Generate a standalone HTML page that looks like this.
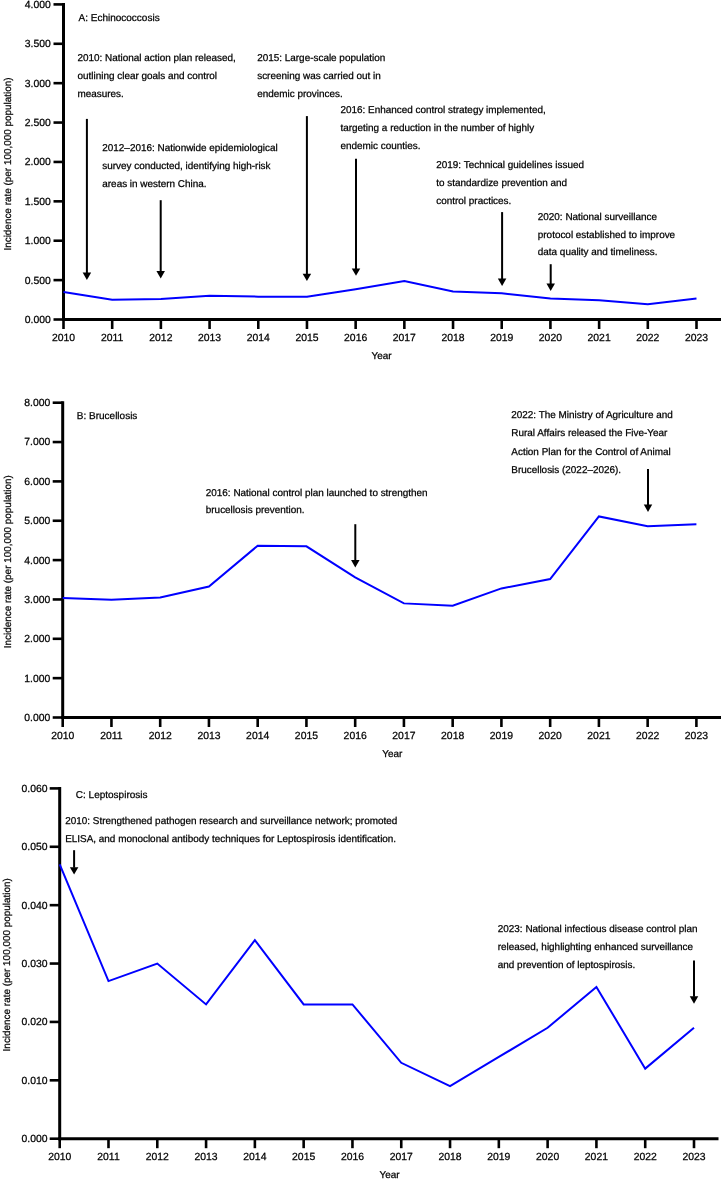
<!DOCTYPE html>
<html><head><meta charset="utf-8"><style>
html,body{margin:0;padding:0;background:#fff;}
svg{display:block;will-change:transform;}
text{font-family:"Liberation Sans", sans-serif;fill:#000;text-rendering:geometricPrecision;stroke:#000;stroke-width:0.25px;}
</style></head><body>
<svg width="722" height="1180" viewBox="0 0 722 1180">
<rect width="722" height="1180" fill="#fff"/>
<line x1="63.50" y1="2.90" x2="63.50" y2="321.00" stroke="#000" stroke-width="3"/>
<line x1="62.00" y1="319.50" x2="721.00" y2="319.50" stroke="#000" stroke-width="3"/>
<line x1="53.50" y1="319.50" x2="63.50" y2="319.50" stroke="#000" stroke-width="2.6"/>
<text x="50.80" y="322.90" font-size="10.4" text-anchor="end">0.000</text>
<line x1="53.50" y1="280.11" x2="63.50" y2="280.11" stroke="#000" stroke-width="2.6"/>
<text x="50.80" y="283.51" font-size="10.4" text-anchor="end">0.500</text>
<line x1="53.50" y1="240.72" x2="63.50" y2="240.72" stroke="#000" stroke-width="2.6"/>
<text x="50.80" y="244.12" font-size="10.4" text-anchor="end">1.000</text>
<line x1="53.50" y1="201.34" x2="63.50" y2="201.34" stroke="#000" stroke-width="2.6"/>
<text x="50.80" y="204.74" font-size="10.4" text-anchor="end">1.500</text>
<line x1="53.50" y1="161.95" x2="63.50" y2="161.95" stroke="#000" stroke-width="2.6"/>
<text x="50.80" y="165.35" font-size="10.4" text-anchor="end">2.000</text>
<line x1="53.50" y1="122.56" x2="63.50" y2="122.56" stroke="#000" stroke-width="2.6"/>
<text x="50.80" y="125.96" font-size="10.4" text-anchor="end">2.500</text>
<line x1="53.50" y1="83.17" x2="63.50" y2="83.17" stroke="#000" stroke-width="2.6"/>
<text x="50.80" y="86.57" font-size="10.4" text-anchor="end">3.000</text>
<line x1="53.50" y1="43.79" x2="63.50" y2="43.79" stroke="#000" stroke-width="2.6"/>
<text x="50.80" y="47.19" font-size="10.4" text-anchor="end">3.500</text>
<line x1="53.50" y1="4.40" x2="63.50" y2="4.40" stroke="#000" stroke-width="2.6"/>
<text x="50.80" y="7.80" font-size="10.4" text-anchor="end">4.000</text>
<line x1="63.50" y1="319.50" x2="63.50" y2="329.00" stroke="#000" stroke-width="2.6"/>
<text x="63.50" y="340.70" font-size="10.4" text-anchor="middle">2010</text>
<line x1="112.19" y1="319.50" x2="112.19" y2="329.00" stroke="#000" stroke-width="2.6"/>
<text x="112.19" y="340.70" font-size="10.4" text-anchor="middle">2011</text>
<line x1="160.88" y1="319.50" x2="160.88" y2="329.00" stroke="#000" stroke-width="2.6"/>
<text x="160.88" y="340.70" font-size="10.4" text-anchor="middle">2012</text>
<line x1="209.58" y1="319.50" x2="209.58" y2="329.00" stroke="#000" stroke-width="2.6"/>
<text x="209.58" y="340.70" font-size="10.4" text-anchor="middle">2013</text>
<line x1="258.27" y1="319.50" x2="258.27" y2="329.00" stroke="#000" stroke-width="2.6"/>
<text x="258.27" y="340.70" font-size="10.4" text-anchor="middle">2014</text>
<line x1="306.96" y1="319.50" x2="306.96" y2="329.00" stroke="#000" stroke-width="2.6"/>
<text x="306.96" y="340.70" font-size="10.4" text-anchor="middle">2015</text>
<line x1="355.65" y1="319.50" x2="355.65" y2="329.00" stroke="#000" stroke-width="2.6"/>
<text x="355.65" y="340.70" font-size="10.4" text-anchor="middle">2016</text>
<line x1="404.35" y1="319.50" x2="404.35" y2="329.00" stroke="#000" stroke-width="2.6"/>
<text x="404.35" y="340.70" font-size="10.4" text-anchor="middle">2017</text>
<line x1="453.04" y1="319.50" x2="453.04" y2="329.00" stroke="#000" stroke-width="2.6"/>
<text x="453.04" y="340.70" font-size="10.4" text-anchor="middle">2018</text>
<line x1="501.73" y1="319.50" x2="501.73" y2="329.00" stroke="#000" stroke-width="2.6"/>
<text x="501.73" y="340.70" font-size="10.4" text-anchor="middle">2019</text>
<line x1="550.42" y1="319.50" x2="550.42" y2="329.00" stroke="#000" stroke-width="2.6"/>
<text x="550.42" y="340.70" font-size="10.4" text-anchor="middle">2020</text>
<line x1="599.12" y1="319.50" x2="599.12" y2="329.00" stroke="#000" stroke-width="2.6"/>
<text x="599.12" y="340.70" font-size="10.4" text-anchor="middle">2021</text>
<line x1="647.81" y1="319.50" x2="647.81" y2="329.00" stroke="#000" stroke-width="2.6"/>
<text x="647.81" y="340.70" font-size="10.4" text-anchor="middle">2022</text>
<line x1="696.50" y1="319.50" x2="696.50" y2="329.00" stroke="#000" stroke-width="2.6"/>
<text x="696.50" y="340.70" font-size="10.4" text-anchor="middle">2023</text>
<polyline points="63.50,291.93 112.19,299.81 160.88,299.02 209.58,295.87 258.27,296.66 306.96,296.66 355.65,289.17 404.35,280.90 453.04,291.38 501.73,293.35 550.42,298.55 599.12,300.20 647.81,304.14 696.50,298.55" fill="none" stroke="#0000ff" stroke-width="2" stroke-linejoin="miter"/>
<text x="381.60" y="359.00" font-size="9.93" text-anchor="middle">Year</text>
<text x="0" y="0" font-size="9.93" text-anchor="middle" transform="translate(11.00,164.00) rotate(-90)">Incidence rate (per 100,000 population)</text>
<text x="78.50" y="21.10" font-size="10" text-anchor="start">A: Echinococcosis</text>
<text x="77.50" y="60.80" font-size="9.93" text-anchor="start">2010: National action plan released,</text>
<text x="77.50" y="78.70" font-size="9.93" text-anchor="start">outlining clear goals and control</text>
<text x="77.50" y="96.60" font-size="9.93" text-anchor="start">measures.</text>
<text x="257.20" y="60.80" font-size="9.93" text-anchor="start">2015: Large-scale population</text>
<text x="257.20" y="78.70" font-size="9.93" text-anchor="start">screening was carried out in</text>
<text x="257.20" y="96.60" font-size="9.93" text-anchor="start">endemic provinces.</text>
<text x="102.30" y="151.40" font-size="9.93" text-anchor="start">2012–2016: Nationwide epidemiological</text>
<text x="102.30" y="169.30" font-size="9.93" text-anchor="start">survey conducted, identifying high-risk</text>
<text x="102.30" y="187.20" font-size="9.93" text-anchor="start">areas in western China.</text>
<text x="340.50" y="113.10" font-size="9.93" text-anchor="start">2016: Enhanced control strategy implemented,</text>
<text x="340.50" y="131.00" font-size="9.93" text-anchor="start">targeting a reduction in the number of highly</text>
<text x="340.50" y="148.90" font-size="9.93" text-anchor="start">endemic counties.</text>
<text x="436.30" y="168.40" font-size="9.93" text-anchor="start">2019: Technical guidelines issued</text>
<text x="436.30" y="186.30" font-size="9.93" text-anchor="start">to standardize prevention and</text>
<text x="436.30" y="204.20" font-size="9.93" text-anchor="start">control practices.</text>
<text x="537.80" y="219.60" font-size="9.93" text-anchor="start">2020: National surveillance</text>
<text x="537.80" y="237.50" font-size="9.93" text-anchor="start">protocol established to improve</text>
<text x="537.80" y="255.40" font-size="9.93" text-anchor="start">data quality and timeliness.</text>
<line x1="86.90" y1="118.90" x2="86.90" y2="273.10" stroke="#000" stroke-width="2"/>
<path d="M82.65,272.60 L91.15,272.60 L86.90,280.00 Z" fill="#000"/>
<line x1="160.70" y1="200.20" x2="160.70" y2="271.60" stroke="#000" stroke-width="2"/>
<path d="M156.45,271.10 L164.95,271.10 L160.70,278.50 Z" fill="#000"/>
<line x1="306.90" y1="116.10" x2="306.90" y2="274.20" stroke="#000" stroke-width="2"/>
<path d="M302.65,273.70 L311.15,273.70 L306.90,281.10 Z" fill="#000"/>
<line x1="356.00" y1="158.80" x2="356.00" y2="268.90" stroke="#000" stroke-width="2"/>
<path d="M351.75,268.40 L360.25,268.40 L356.00,275.80 Z" fill="#000"/>
<line x1="502.10" y1="212.10" x2="502.10" y2="279.10" stroke="#000" stroke-width="2"/>
<path d="M497.85,278.60 L506.35,278.60 L502.10,286.00 Z" fill="#000"/>
<line x1="550.70" y1="264.20" x2="550.70" y2="284.10" stroke="#000" stroke-width="2"/>
<path d="M546.45,283.60 L554.95,283.60 L550.70,291.00 Z" fill="#000"/>
<line x1="62.70" y1="401.20" x2="62.70" y2="719.00" stroke="#000" stroke-width="3"/>
<line x1="61.20" y1="717.50" x2="721.00" y2="717.50" stroke="#000" stroke-width="3"/>
<line x1="52.70" y1="717.50" x2="62.70" y2="717.50" stroke="#000" stroke-width="2.6"/>
<text x="50.30" y="720.90" font-size="10.4" text-anchor="end">0.000</text>
<line x1="52.70" y1="678.15" x2="62.70" y2="678.15" stroke="#000" stroke-width="2.6"/>
<text x="50.30" y="681.55" font-size="10.4" text-anchor="end">1.000</text>
<line x1="52.70" y1="638.80" x2="62.70" y2="638.80" stroke="#000" stroke-width="2.6"/>
<text x="50.30" y="642.20" font-size="10.4" text-anchor="end">2.000</text>
<line x1="52.70" y1="599.45" x2="62.70" y2="599.45" stroke="#000" stroke-width="2.6"/>
<text x="50.30" y="602.85" font-size="10.4" text-anchor="end">3.000</text>
<line x1="52.70" y1="560.10" x2="62.70" y2="560.10" stroke="#000" stroke-width="2.6"/>
<text x="50.30" y="563.50" font-size="10.4" text-anchor="end">4.000</text>
<line x1="52.70" y1="520.75" x2="62.70" y2="520.75" stroke="#000" stroke-width="2.6"/>
<text x="50.30" y="524.15" font-size="10.4" text-anchor="end">5.000</text>
<line x1="52.70" y1="481.40" x2="62.70" y2="481.40" stroke="#000" stroke-width="2.6"/>
<text x="50.30" y="484.80" font-size="10.4" text-anchor="end">6.000</text>
<line x1="52.70" y1="442.05" x2="62.70" y2="442.05" stroke="#000" stroke-width="2.6"/>
<text x="50.30" y="445.45" font-size="10.4" text-anchor="end">7.000</text>
<line x1="52.70" y1="402.70" x2="62.70" y2="402.70" stroke="#000" stroke-width="2.6"/>
<text x="50.30" y="406.10" font-size="10.4" text-anchor="end">8.000</text>
<line x1="62.70" y1="717.50" x2="62.70" y2="727.00" stroke="#000" stroke-width="2.6"/>
<text x="62.70" y="738.70" font-size="10.4" text-anchor="middle">2010</text>
<line x1="111.45" y1="717.50" x2="111.45" y2="727.00" stroke="#000" stroke-width="2.6"/>
<text x="111.45" y="738.70" font-size="10.4" text-anchor="middle">2011</text>
<line x1="160.19" y1="717.50" x2="160.19" y2="727.00" stroke="#000" stroke-width="2.6"/>
<text x="160.19" y="738.70" font-size="10.4" text-anchor="middle">2012</text>
<line x1="208.94" y1="717.50" x2="208.94" y2="727.00" stroke="#000" stroke-width="2.6"/>
<text x="208.94" y="738.70" font-size="10.4" text-anchor="middle">2013</text>
<line x1="257.68" y1="717.50" x2="257.68" y2="727.00" stroke="#000" stroke-width="2.6"/>
<text x="257.68" y="738.70" font-size="10.4" text-anchor="middle">2014</text>
<line x1="306.43" y1="717.50" x2="306.43" y2="727.00" stroke="#000" stroke-width="2.6"/>
<text x="306.43" y="738.70" font-size="10.4" text-anchor="middle">2015</text>
<line x1="355.18" y1="717.50" x2="355.18" y2="727.00" stroke="#000" stroke-width="2.6"/>
<text x="355.18" y="738.70" font-size="10.4" text-anchor="middle">2016</text>
<line x1="403.92" y1="717.50" x2="403.92" y2="727.00" stroke="#000" stroke-width="2.6"/>
<text x="403.92" y="738.70" font-size="10.4" text-anchor="middle">2017</text>
<line x1="452.67" y1="717.50" x2="452.67" y2="727.00" stroke="#000" stroke-width="2.6"/>
<text x="452.67" y="738.70" font-size="10.4" text-anchor="middle">2018</text>
<line x1="501.42" y1="717.50" x2="501.42" y2="727.00" stroke="#000" stroke-width="2.6"/>
<text x="501.42" y="738.70" font-size="10.4" text-anchor="middle">2019</text>
<line x1="550.16" y1="717.50" x2="550.16" y2="727.00" stroke="#000" stroke-width="2.6"/>
<text x="550.16" y="738.70" font-size="10.4" text-anchor="middle">2020</text>
<line x1="598.91" y1="717.50" x2="598.91" y2="727.00" stroke="#000" stroke-width="2.6"/>
<text x="598.91" y="738.70" font-size="10.4" text-anchor="middle">2021</text>
<line x1="647.65" y1="717.50" x2="647.65" y2="727.00" stroke="#000" stroke-width="2.6"/>
<text x="647.65" y="738.70" font-size="10.4" text-anchor="middle">2022</text>
<line x1="696.40" y1="717.50" x2="696.40" y2="727.00" stroke="#000" stroke-width="2.6"/>
<text x="696.40" y="738.70" font-size="10.4" text-anchor="middle">2023</text>
<polyline points="62.70,597.88 111.45,599.84 160.19,597.48 208.94,586.46 257.68,545.70 306.43,546.33 355.18,577.41 403.92,603.38 452.67,605.75 501.42,588.43 550.16,578.99 598.91,516.42 647.65,526.26 696.40,524.29" fill="none" stroke="#0000ff" stroke-width="2" stroke-linejoin="miter"/>
<text x="392.30" y="757.10" font-size="9.93" text-anchor="middle">Year</text>
<text x="0" y="0" font-size="9.93" text-anchor="middle" transform="translate(11.00,561.70) rotate(-90)">Incidence rate (per 100,000 population)</text>
<text x="76.80" y="419.10" font-size="10" text-anchor="start">B: Brucellosis</text>
<text x="205.80" y="495.50" font-size="9.93" text-anchor="start">2016: National control plan launched to strengthen</text>
<text x="205.80" y="513.20" font-size="9.93" text-anchor="start">brucellosis prevention.</text>
<text x="511.30" y="418.30" font-size="9.93" text-anchor="start">2022: The Ministry of Agriculture and</text>
<text x="511.30" y="436.40" font-size="9.93" text-anchor="start">Rural Affairs released the Five-Year</text>
<text x="511.30" y="454.50" font-size="9.93" text-anchor="start">Action Plan for the Control of Animal</text>
<text x="511.30" y="472.60" font-size="9.93" text-anchor="start">Brucellosis (2022–2026).</text>
<line x1="355.30" y1="524.20" x2="355.30" y2="560.60" stroke="#000" stroke-width="2"/>
<path d="M351.05,560.10 L359.55,560.10 L355.30,567.50 Z" fill="#000"/>
<line x1="648.00" y1="468.90" x2="648.00" y2="505.00" stroke="#000" stroke-width="2"/>
<path d="M643.75,504.50 L652.25,504.50 L648.00,511.90 Z" fill="#000"/>
<line x1="59.70" y1="786.90" x2="59.70" y2="1140.20" stroke="#000" stroke-width="3"/>
<line x1="58.20" y1="1138.70" x2="718.50" y2="1138.70" stroke="#000" stroke-width="3"/>
<line x1="49.70" y1="1138.70" x2="59.70" y2="1138.70" stroke="#000" stroke-width="2.6"/>
<text x="47.60" y="1142.10" font-size="10.4" text-anchor="end">0.000</text>
<line x1="49.70" y1="1080.32" x2="59.70" y2="1080.32" stroke="#000" stroke-width="2.6"/>
<text x="47.60" y="1083.72" font-size="10.4" text-anchor="end">0.010</text>
<line x1="49.70" y1="1021.93" x2="59.70" y2="1021.93" stroke="#000" stroke-width="2.6"/>
<text x="47.60" y="1025.33" font-size="10.4" text-anchor="end">0.020</text>
<line x1="49.70" y1="963.55" x2="59.70" y2="963.55" stroke="#000" stroke-width="2.6"/>
<text x="47.60" y="966.95" font-size="10.4" text-anchor="end">0.030</text>
<line x1="49.70" y1="905.17" x2="59.70" y2="905.17" stroke="#000" stroke-width="2.6"/>
<text x="47.60" y="908.57" font-size="10.4" text-anchor="end">0.040</text>
<line x1="49.70" y1="846.78" x2="59.70" y2="846.78" stroke="#000" stroke-width="2.6"/>
<text x="47.60" y="850.18" font-size="10.4" text-anchor="end">0.050</text>
<line x1="49.70" y1="788.40" x2="59.70" y2="788.40" stroke="#000" stroke-width="2.6"/>
<text x="47.60" y="791.80" font-size="10.4" text-anchor="end">0.060</text>
<line x1="59.70" y1="1138.70" x2="59.70" y2="1148.20" stroke="#000" stroke-width="2.6"/>
<text x="59.70" y="1159.90" font-size="10.4" text-anchor="middle">2010</text>
<line x1="108.49" y1="1138.70" x2="108.49" y2="1148.20" stroke="#000" stroke-width="2.6"/>
<text x="108.49" y="1159.90" font-size="10.4" text-anchor="middle">2011</text>
<line x1="157.28" y1="1138.70" x2="157.28" y2="1148.20" stroke="#000" stroke-width="2.6"/>
<text x="157.28" y="1159.90" font-size="10.4" text-anchor="middle">2012</text>
<line x1="206.08" y1="1138.70" x2="206.08" y2="1148.20" stroke="#000" stroke-width="2.6"/>
<text x="206.08" y="1159.90" font-size="10.4" text-anchor="middle">2013</text>
<line x1="254.87" y1="1138.70" x2="254.87" y2="1148.20" stroke="#000" stroke-width="2.6"/>
<text x="254.87" y="1159.90" font-size="10.4" text-anchor="middle">2014</text>
<line x1="303.66" y1="1138.70" x2="303.66" y2="1148.20" stroke="#000" stroke-width="2.6"/>
<text x="303.66" y="1159.90" font-size="10.4" text-anchor="middle">2015</text>
<line x1="352.45" y1="1138.70" x2="352.45" y2="1148.20" stroke="#000" stroke-width="2.6"/>
<text x="352.45" y="1159.90" font-size="10.4" text-anchor="middle">2016</text>
<line x1="401.25" y1="1138.70" x2="401.25" y2="1148.20" stroke="#000" stroke-width="2.6"/>
<text x="401.25" y="1159.90" font-size="10.4" text-anchor="middle">2017</text>
<line x1="450.04" y1="1138.70" x2="450.04" y2="1148.20" stroke="#000" stroke-width="2.6"/>
<text x="450.04" y="1159.90" font-size="10.4" text-anchor="middle">2018</text>
<line x1="498.83" y1="1138.70" x2="498.83" y2="1148.20" stroke="#000" stroke-width="2.6"/>
<text x="498.83" y="1159.90" font-size="10.4" text-anchor="middle">2019</text>
<line x1="547.62" y1="1138.70" x2="547.62" y2="1148.20" stroke="#000" stroke-width="2.6"/>
<text x="547.62" y="1159.90" font-size="10.4" text-anchor="middle">2020</text>
<line x1="596.42" y1="1138.70" x2="596.42" y2="1148.20" stroke="#000" stroke-width="2.6"/>
<text x="596.42" y="1159.90" font-size="10.4" text-anchor="middle">2021</text>
<line x1="645.21" y1="1138.70" x2="645.21" y2="1148.20" stroke="#000" stroke-width="2.6"/>
<text x="645.21" y="1159.90" font-size="10.4" text-anchor="middle">2022</text>
<line x1="694.00" y1="1138.70" x2="694.00" y2="1148.20" stroke="#000" stroke-width="2.6"/>
<text x="694.00" y="1159.90" font-size="10.4" text-anchor="middle">2023</text>
<polyline points="59.70,864.30 108.49,981.07 157.28,963.55 206.08,1004.42 254.87,940.20 303.66,1004.42 352.45,1004.42 401.25,1062.80 450.04,1086.15 498.83,1056.96 547.62,1027.77 596.42,986.90 645.21,1068.64 694.00,1027.77" fill="none" stroke="#0000ff" stroke-width="2" stroke-linejoin="miter"/>
<text x="389.60" y="1178.20" font-size="9.93" text-anchor="middle">Year</text>
<text x="0" y="0" font-size="9.93" text-anchor="middle" transform="translate(9.50,964.80) rotate(-90)">Incidence rate (per 100,000 population)</text>
<text x="75.80" y="798.20" font-size="10" text-anchor="start">C: Leptospirosis</text>
<text x="65.20" y="823.70" font-size="9.93" text-anchor="start">2010: Strengthened pathogen research and surveillance network; promoted</text>
<text x="65.20" y="841.60" font-size="9.93" text-anchor="start">ELISA, and monoclonal antibody techniques for Leptospirosis identification.</text>
<text x="497.80" y="931.90" font-size="9.93" text-anchor="start">2023: National infectious disease control plan</text>
<text x="497.80" y="950.05" font-size="9.93" text-anchor="start">released, highlighting enhanced surveillance</text>
<text x="497.80" y="968.20" font-size="9.93" text-anchor="start">and prevention of leptospirosis.</text>
<line x1="74.10" y1="850.20" x2="74.10" y2="867.70" stroke="#000" stroke-width="2"/>
<path d="M69.85,867.20 L78.35,867.20 L74.10,874.60 Z" fill="#000"/>
<line x1="694.00" y1="960.40" x2="694.00" y2="996.80" stroke="#000" stroke-width="2"/>
<path d="M689.75,996.30 L698.25,996.30 L694.00,1003.70 Z" fill="#000"/>
</svg>
</body></html>
